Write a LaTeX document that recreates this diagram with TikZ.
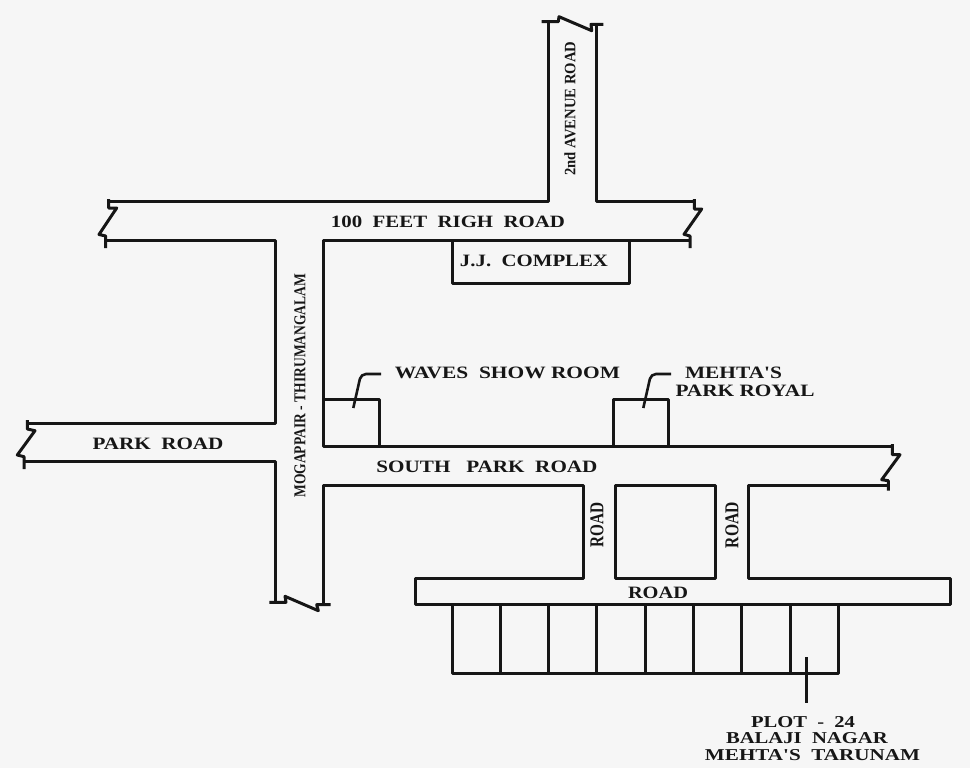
\documentclass[tikz,border=0pt]{standalone}
\usepackage{graphicx}
\usepackage{fontspec}
\setmainfont{Liberation Serif}
\usepackage{tikz}
\definecolor{MapPaper}{RGB}{246,246,246}
\definecolor{MapInk}{RGB}{22,22,22}
\newcommand{\roadtext}[3][11.5pt]{\resizebox{#2pt}{#1}{\textbf{#3}}}

\begin{document}
\begin{tikzpicture}[x=1pt,y=-1pt,wall/.style={draw=MapInk,line width=3pt,line join=round},leader/.style={draw=MapInk,line width=2.6pt,rounded corners=5pt},lbl/.style={text=MapInk,inner sep=0pt,yshift=-0.7pt}]
    \fill[MapPaper] (0,0) rectangle (970,768);
    \useasboundingbox (0,0) rectangle (970,768);
    % road edges, west side
    \draw[wall] (108.7,199) -- (108.7,208) -- (116.7,208) -- (99,234.5) -- (105.7,236) -- (105.7,248);
    \draw[wall] (108.7,201.5) -- (548.3,201.5) -- (548.3,21.7);
    \draw[wall] (541.7,21.7) -- (558.3,21.7) -- (559,16.7) -- (591.7,30.7) -- (591,24.3) -- (603.3,24.3);
    \draw[wall] (596.7,24.3) -- (596.7,201.5) -- (694.3,201.5);
    \draw[wall] (694.3,199) -- (694.3,209) -- (701.7,209) -- (684,234.3) -- (690,236) -- (690,248);
    \draw[wall] (105.7,240) -- (275,240) -- (275,423) -- (27.3,423);
    \draw[wall] (27.3,420) -- (27.3,429) -- (35,430.7) -- (17.3,455) -- (24,456.7) -- (24,469);
    \draw[wall] (24,461.7) -- (275,461.7) -- (275,602.3);
    \draw[wall] (269.3,602.3) -- (286,602.3) -- (285,596.3) -- (318.3,610.7) -- (316.7,604.7) -- (330.7,604.7);
    \draw[wall] (323,604.7) -- (323,485.7) -- (583.3,485.7) -- (583.3,578.3) -- (415,578.3) -- (415,604.7) -- (950.7,604.7) -- (950.7,578.3) -- (748.3,578.3) -- (748.3,485.7) -- (888.3,485.7);
    \draw[wall] (690,240) -- (323,240) -- (323,446.3) -- (891.7,446.3);
    \draw[wall] (892.3,444) -- (892.3,454.7) -- (900,454.7) -- (881.7,479.7) -- (888.3,480.7) -- (888.3,490.7);
    % blocks
    \draw[wall] (615,485.7) rectangle (715.7,578.3);
    \draw[wall] (452.3,240) -- (452.3,283) -- (629,283) -- (629,240);
    \draw[wall] (323,399.7) -- (379,399.7) -- (379,446.3);
    \draw[wall] (613.3,446.3) -- (613.3,399.7) -- (668.3,399.7) -- (668.3,446.3);
    % plots
    \draw[wall] (452,604.7) -- (452,673) -- (838,673) -- (838,604.7);
    \foreach \x in {500,548.3,596.7,645,693,741.5,790} {
       \draw[wall] (\x,604.7) -- (\x,673);
    }
    % leaders
    \coordinate (wavesTip) at (353.3,408);
    \coordinate (wavesEnd) at (381,374);
    \coordinate (royalTip) at (643.3,408);
    \coordinate (royalEnd) at (671,374);
    \coordinate (plotTop) at (806.7,657.3);
    \coordinate (plotEnd) at (806.7,703);
    \draw[leader] (wavesTip) -- (361,374) -- (wavesEnd);
    \draw[leader] (royalTip) -- (651,374) -- (royalEnd);
    \draw[leader,line width=3pt] (plotTop) -- (plotEnd);
    % labels
    \node[lbl](feetLbl) at (448,221) {\roadtext{234}{100\ \ FEET\ \ RIGH\ \ ROAD}};
    \node[lbl](jjLbl) at (534,260) {\roadtext{148}{J.J.\ \ COMPLEX}};
    \node[lbl](wavesLbl) at (507.5,372) {\roadtext{225}{WAVES\ \ SHOW ROOM}};
    \node[lbl](mehtaLbl) at (733.5,372) {\roadtext{97}{MEHTA\textquotesingle S}};
    \node[lbl](royalLbl) at (745,390) {\roadtext{139}{PARK ROYAL}};
    \node[lbl](parkLbl) at (158,443) {\roadtext{131}{PARK\ \ ROAD}};
    \node[lbl](southLbl) at (487,466) {\roadtext{221}{SOUTH\ \ \ PARK\ \ ROAD}};
    \node[lbl](roadLbl) at (658,592) {\roadtext{60}{ROAD}};
    \node[lbl](plotLbl) at (803,721.7) {\roadtext[11pt]{104}{PLOT\ \ -\ \ 24}};
    \node[lbl](balajiLbl) at (807,737) {\roadtext[11pt]{162}{BALAJI\ \ NAGAR}};
    \node[lbl](tarunamLbl) at (812.5,754.7) {\roadtext[11pt]{215}{MEHTA\textquotesingle S\ \ TARUNAM}};
    \node[lbl,rotate=90](mogLbl) at (300,385) {\roadtext[11pt]{224}{MOGAPPAIR - THIRUMANGALAM}};
    \node[lbl,rotate=90](avenueLbl) at (570,108) {\roadtext[11pt]{134}{2nd AVENUE ROAD}};
    \node[lbl,rotate=90](roadWest) at (597,524.5) {\roadtext[13pt]{45}{ROAD}};
    \node[lbl,rotate=90](roadEast) at (732,524.5) {\roadtext[13pt]{46}{ROAD}};
\end{tikzpicture}
\end{document}
